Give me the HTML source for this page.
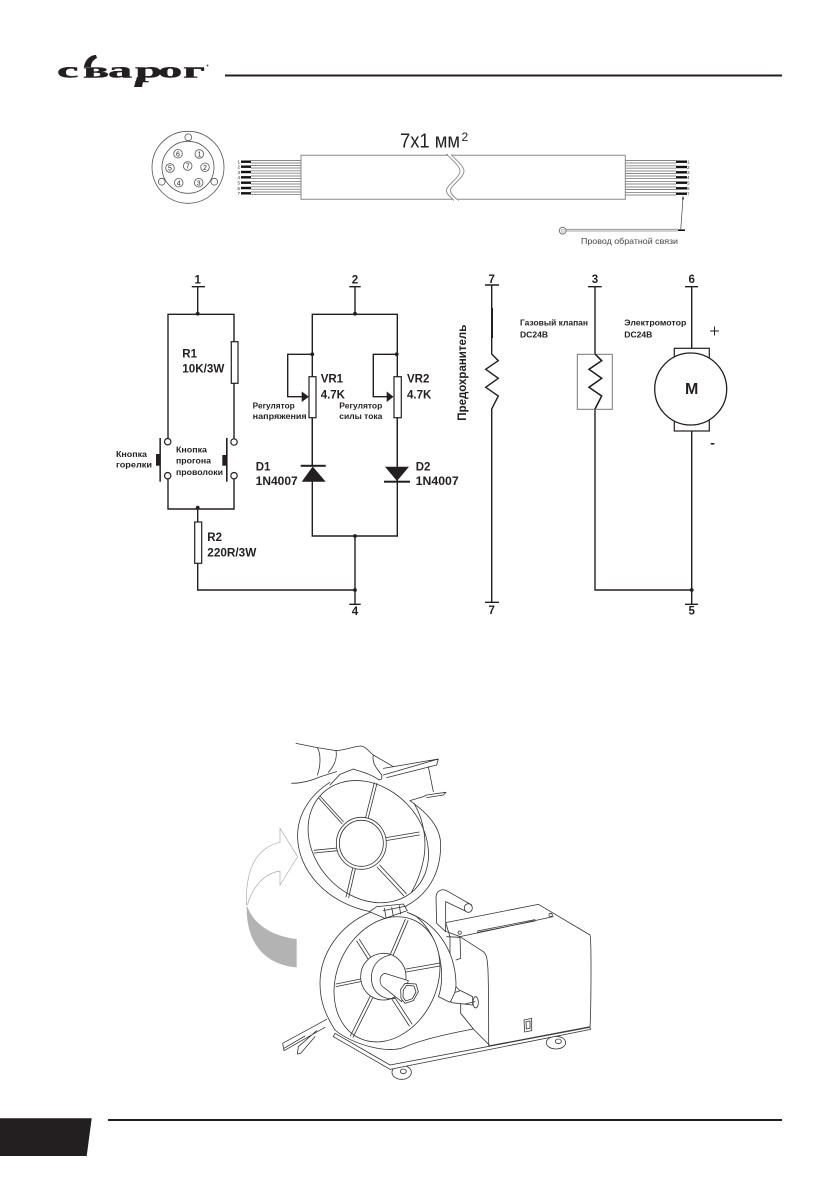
<!DOCTYPE html>
<html lang="ru"><head><meta charset="utf-8"><title>Сварог</title>
<style>
html,body{margin:0;padding:0;background:#fff}
svg{display:block}
text{font-family:"Liberation Sans","Noto Sans CJK SC",sans-serif;fill:#231f20}
.b{font-weight:bold}
.c{fill:none;stroke:#231f20;stroke-width:1.4}
.g{fill:none;stroke:#777;stroke-width:1}
.d{fill:#231f20}
.r{fill:#fff;stroke:#231f20;stroke-width:1.2}
.l{fill:none;stroke:#333;stroke-width:2.4;stroke-linejoin:round;stroke-linecap:round}
.w{fill:#fff;stroke:#333;stroke-width:2.4;stroke-linejoin:round}
</style></head><body>
<svg xmlns="http://www.w3.org/2000/svg" width="839" height="1191" viewBox="0 0 839 1191">
<rect width="839" height="1191" fill="#fff"/>

<!-- header -->
<text transform="translate(57,77.5) scale(2.2,1)" x="0 11.8 23.2 35.5 46 57.3" y="0" font-size="22" style="font-family:'Liberation Serif','Noto Serif CJK SC',serif;font-weight:bold;fill:#231f20;stroke:#231f20;stroke-width:.4">сварог</text>
<path d="M84 67C85 60 90 55 96 55L97 58C93 60 91 63 91 67Z" class="d"/>
<path d="M137 77H144L142 87H134Z" class="d"/>
<circle cx="207.5" cy="65.5" r="1" fill="#555"/>
<rect x="225" y="74.5" width="557" height="2" class="d"/>

<!-- footer -->
<path d="M0 1118.3H91.7L86.7 1156H0Z" class="d"/>
<rect x="108" y="1119" width="674" height="2" class="d"/>

<!-- connector -->
<g fill="none" stroke="#555" stroke-width=".8">
<circle cx="188" cy="167.3" r="36"/><circle cx="188" cy="167.3" r="26"/>
<g fill="#fff"><circle cx="188.3" cy="137.3" r="3.4"/><circle cx="161.7" cy="181.7" r="3.4"/><circle cx="214.3" cy="181.7" r="3.4"/></g>
<circle cx="178" cy="153.7" r="4.3"/><circle cx="199.3" cy="154" r="4.3"/><circle cx="170" cy="168" r="4.3"/><circle cx="187.7" cy="166" r="4.3"/><circle cx="205" cy="167.3" r="4.3"/><circle cx="178.7" cy="182.7" r="4.3"/><circle cx="198.7" cy="182.7" r="4.3"/>
</g>
<g font-size="7" text-anchor="middle" fill="#444">
<text x="178" y="156.3">6</text><text x="199.3" y="156.6">1</text><text x="170" y="170.6">5</text><text x="187.7" y="168.6">7</text><text x="205" y="169.9">2</text><text x="178.7" y="185.3">4</text><text x="198.7" y="185.3">3</text>
</g>

<!-- cable -->
<text x="400" y="147.3" font-size="20" textLength="60" lengthAdjust="spacingAndGlyphs" style="fill:#222">7x1 мм</text>
<text x="461.5" y="141" font-size="12" style="fill:#222">2</text>
<g fill="none" stroke="#888" stroke-width=".9">
<path d="M251 160.5H301M251 163H301M251 165.5H301M251 168H301M251 170.8H301M251 173.2H301M251 176H301M251 178.6H301M251 181.4H301M251 184H301M251 186.8H301M251 189.3H301M251 192H301M251 194.6H301"/>
<path d="M625 160.5H676M625 163H676M625 165.8H676M625 168.2H676M625 171H676M625 173.5H676M625 176H676M625 178.6H676M625 181.4H676M625 184H676M625 187H676M625 189.5H676M625 192.4H676M625 195H676"/>
</g>
<g fill="#111">
<rect x="241" y="160.5" width="10" height="2.4"/><rect x="241" y="165.5" width="10" height="2.4"/><rect x="241" y="170.8" width="10" height="2.4"/><rect x="241" y="176.1" width="10" height="2.4"/><rect x="241" y="181.5" width="10" height="2.4"/><rect x="241" y="186.8" width="10" height="2.4"/><rect x="241" y="192.1" width="10" height="2.4"/>
<rect x="676" y="160.5" width="11" height="2.4"/><rect x="676" y="165.8" width="11" height="2.4"/><rect x="676" y="171.1" width="11" height="2.4"/><rect x="676" y="176.1" width="11" height="2.4"/><rect x="676" y="181.5" width="11" height="2.4"/><rect x="676" y="187.1" width="11" height="2.4"/><rect x="676" y="192.5" width="11" height="2.4"/>
</g>
<g font-size="4.5" style="fill:#666">
<text x="237.5" y="163.5">1</text><text x="237.5" y="168.5">2</text><text x="237.5" y="173.8">3</text><text x="237.5" y="179">4</text><text x="237.5" y="184.5">5</text><text x="237.5" y="189.8">6</text><text x="237.5" y="195">7</text>
<text x="687" y="163.5">1</text><text x="687" y="168.8">2</text><text x="687" y="174">3</text><text x="687" y="179">4</text><text x="687" y="184.5">5</text><text x="687" y="190">6</text><text x="687" y="195.5">7</text>
</g>
<path d="M301 155.3H625.3V199.3H301Z" fill="#fff" stroke="#888" stroke-width="1"/>
<path d="M447 154.5 C452 160 460 166 460 171 C460 178 445 186 446.5 191 C447 195 451 197 454 200.5L458 200.5 C455 197 451 195 450.5 191 C449.5 186 464 178 464 171 C464 166 456 160 451 154.5Z" fill="#fff" stroke="#888" stroke-width=".9"/>
<path d="M451 154.5H448M454 200.5H458" stroke="#fff" stroke-width="1.6"/>
<circle cx="562.7" cy="230.7" r="3.4" fill="#fff" stroke="#777"/><circle cx="562.7" cy="230.7" r="1.5" fill="#fff" stroke="#999" stroke-width=".6"/>
<path d="M566 229.3H678M566 231H678" stroke="#888" stroke-width=".8"/>
<rect x="678" y="229.4" width="7" height="1.6" fill="#111"/>
<path d="M680.7 230L683 198" stroke="#444" stroke-width=".7"/>
<path d="M683 195.5l-1.2 4h2.4z" fill="#444"/>
<text x="581" y="244" font-size="8.6" textLength="97" lengthAdjust="spacingAndGlyphs" style="fill:#444">Провод обратной связи</text>

<!-- circuit 1 -->
<g class="c">
<path d="M191.7 286.7H205M197.7 286.7V314.3M168 441V314.3H234V441M168 479V509H234V479M197.7 509V590H355"/>
<path d="M349.3 286.7H360.7M355 286.7V314.3M312.3 481V536H397.3V314.3H312.3V466M355 536V604.3M349.3 604.3H360.7"/>
<path d="M312.3 354.3H287.7V396.7H303M397.3 354.3H373.3V396.7H388"/>
</g>
<g class="r">
<rect x="231.3" y="341.7" width="6.7" height="41.6"/><rect x="194.7" y="522" width="7" height="41.3"/>
<rect x="309" y="376.7" width="7" height="41"/><rect x="394" y="376.7" width="7.3" height="41"/>
<circle cx="167.7" cy="441.7" r="3.2"/><circle cx="167.7" cy="475.7" r="3.2"/><circle cx="234" cy="442" r="3.2"/><circle cx="234" cy="475.7" r="3.2"/>
</g>
<g class="d">
<circle cx="197.7" cy="313.7" r="1.9"/><circle cx="197.7" cy="507.7" r="1.9"/><circle cx="355" cy="313.7" r="1.9"/><circle cx="355" cy="536" r="1.9"/><circle cx="355" cy="590" r="1.9"/><circle cx="312.3" cy="354.3" r="1.9"/><circle cx="396.7" cy="354.3" r="1.9"/>
<rect x="159.4" y="438" width="1.5" height="43.7"/><rect x="156" y="454" width="4" height="11.7"/>
<rect x="226" y="438" width="1.6" height="43.7"/><rect x="222.3" y="455" width="4" height="10.7"/>
<path d="M301.7 391.5L309 396.7L301.7 402Z"/><path d="M386.7 391.5L393.5 396.7L386.7 402Z"/>
<rect x="300.7" y="464.8" width="25" height="2"/><path d="M312.7 466.5L325.7 481.7H301.7Z"/>
<rect x="384" y="480.7" width="26" height="2"/><path d="M385 466.7H409L397 481Z"/>
</g>
<path d="M312.3 418V466M397.3 418V467" class="c"/>

<g class="b" font-size="11.5">
<text x="197.7" y="283.7" text-anchor="middle">1</text><text x="355" y="283.7" text-anchor="middle">2</text><text x="355" y="615" text-anchor="middle">4</text>
<text x="182.3" y="357.3">R1</text><text x="182.3" y="372.7" textLength="42" lengthAdjust="spacingAndGlyphs">10K/3W</text>
<text x="320.7" y="382.3">VR1</text><text x="320.7" y="398.3">4.7K</text>
<text x="407" y="382.3">VR2</text><text x="407" y="398.3">4.7K</text>
<text x="255.7" y="470.7">D1</text><text x="255.7" y="485" textLength="42" lengthAdjust="spacingAndGlyphs">1N4007</text>
<text x="415.7" y="470.7">D2</text><text x="415.7" y="485" textLength="43" lengthAdjust="spacingAndGlyphs">1N4007</text>
<text x="207.3" y="541">R2</text><text x="207.3" y="556.7" textLength="49" lengthAdjust="spacingAndGlyphs">220R/3W</text>
</g>
<g class="b" font-size="8">
<text x="252.7" y="408.3" textLength="42" lengthAdjust="spacingAndGlyphs">Регулятор</text>
<text x="252.7" y="419" textLength="54" lengthAdjust="spacingAndGlyphs">напряжения</text>
<text x="339.3" y="408.3" textLength="43" lengthAdjust="spacingAndGlyphs">Регулятор</text>
<text x="339.3" y="419" textLength="43" lengthAdjust="spacingAndGlyphs">силы тока</text>
<text x="116" y="457" textLength="31" lengthAdjust="spacingAndGlyphs">Кнопка</text>
<text x="116" y="467.7" textLength="36" lengthAdjust="spacingAndGlyphs">горелки</text>
<text x="176" y="452.7" textLength="31" lengthAdjust="spacingAndGlyphs">Кнопка</text>
<text x="176" y="463.3" textLength="35" lengthAdjust="spacingAndGlyphs">прогона</text>
<text x="176" y="475" textLength="47" lengthAdjust="spacingAndGlyphs">проволоки</text>
<text x="520" y="325.7" textLength="68" lengthAdjust="spacingAndGlyphs">Газовый клапан</text>
<text x="520" y="337.3" textLength="28" lengthAdjust="spacingAndGlyphs">DC24B</text>
<text x="624.3" y="325.7" textLength="62" lengthAdjust="spacingAndGlyphs">Электромотор</text>
<text x="624.3" y="337.3" textLength="28" lengthAdjust="spacingAndGlyphs">DC24B</text>
</g>

<!-- circuit 2 -->
<g class="c">
<path d="M485 285H499M491.7 285V354L498.3 360.7L485.7 369.3L498.3 378.3L485.7 387.3L498.3 396L491.7 409V602.3M485 602.3H499"/>
<path d="M588 286.7H601.7M595 286.7V354L601.7 360.7L589 369.3L601.7 378.3L589 387.3L601.7 396L595 409V590H691.7"/>
<path d="M685 286.7H698M691.7 286.7V348.3M691.7 431V604.3M685 604.3H698"/>
</g>
<rect x="491" y="308" width="2" height="30" class="d"/>
<rect x="577.3" y="354.3" width="35" height="55" fill="none" stroke="#777" stroke-width="1"/>
<path d="M595 354L601.7 360.7L589 369.3L601.7 378.3L589 387.3L601.7 396L595 409" class="c"/>
<rect x="674.3" y="348.3" width="35" height="82.7" class="r"/>
<circle cx="690.7" cy="389" r="36" fill="#fff" stroke="#231f20" stroke-width="1.3"/>
<circle cx="691.7" cy="590" r="1.9" class="d"/>
<path d="M710 331H719M714.5 326.5V335.5" stroke="#231f20" stroke-width="1"/>
<rect x="710.8" y="443" width="3.6" height="1.6" class="d"/>
<g class="b" font-size="11.5" text-anchor="middle">
<text x="491.7" y="283">7</text><text x="491.7" y="614">7</text><text x="595" y="283">3</text><text x="691.7" y="283">6</text><text x="691.7" y="614.3">5</text>
</g>
<text x="691.7" y="394" class="b" font-size="16" text-anchor="middle">M</text>
<text transform="translate(466,420.7) rotate(-90)" class="b" font-size="12" textLength="96" lengthAdjust="spacingAndGlyphs">Предохранитель</text>

<!-- upper reel, coordinates in crop space -->
<g transform="translate(230,735) scale(.33333)">
<path d="M50 510C45 420 70 340 150 322L150 280L203 365L150 450L150 408C105 415 70 450 52 510" fill="#fff" stroke="#aaa" stroke-width="2"/>
<path d="M50 510C70 570 130 605 200 612V697C110 690 50 630 50 520Z" fill="#b3b3b3"/>
<path class="l" d="M460 120L625 72L620 90L470 128M460 100L625 72M595 95L610 170M540 197L580 185L590 180L648 172L640 180L590 188"/>
<path class="l" d="M198 25L262 38L318 47C345 45 370 35 392 33C405 33 415 48 430 60L490 95"/>
<path class="l" d="M262 38C275 60 270 100 262 120M318 47C322 70 315 90 295 112M185 145C220 145 250 135 272 125L320 110"/>
<path class="l" d="M430 60C425 85 440 100 455 120C458 135 450 138 440 130C410 112 390 110 370 102L330 118L300 150"/>
<path class="l" d="M300 142C240 180 200 240 203 310C206 400 280 500 420 530"/>
<path class="l" d="M540 197C600 240 632 280 632 330C632 420 590 480 530 512"/>
<ellipse class="l" cx="415" cy="320" rx="200" ry="162" transform="rotate(47 415 320)"/>
<path class="l" d="M552 205C585 260 592 330 578 385C570 420 560 445 545 470"/>
<path class="l" d="M406 250L433 143M414 252L441 145M336 266L266 189M340 260L270 183M322 339L252 346M322 347L252 354M368 400L348 486M376 402L356 488M441 396L521 482M449 390L529 476M468 308L568 291M468 317L568 300"/>
<ellipse class="w" cx="394" cy="325" rx="75" ry="78"/>
<ellipse class="l" cx="394" cy="325" rx="66" ry="69"/>
</g>

<!-- lower unit, coordinates in crop space -->
<g transform="translate(270,880) scale(.33333)">
<ellipse class="l" cx="395" cy="577" rx="29" ry="21"/><ellipse class="l" cx="400" cy="574" rx="9" ry="7"/>
<ellipse class="l" cx="858" cy="488" rx="29" ry="19"/><ellipse class="l" cx="865" cy="484" rx="9" ry="7"/>
<path class="l" d="M170 418L38 490L42 512L165 442M140 452L85 500L82 522L92 520L135 470M42 505L105 468"/>
<path class="w" d="M195 460L360 555L960 442L962 448L360 568L190 470Z"/>
<path class="w" d="M527 128L805 73L960 165C965 175 963 400 960 440L660 497L610 447L572 400V335L540 300V170Z"/>
<path class="l" d="M530 155L570 170L640 215C655 228 656 240 656 497M570 170L850 110M622 157L795 123M622 153L795 119"/>
<circle class="l" cx="842" cy="105" r="5"/><circle class="l" cx="569" cy="158" r="5"/>
<path class="l" d="M530 170L570 172L572 235L558 240"/>
<path class="w" d="M527 155L500 130L498 50C500 32 515 25 530 32L605 75L590 95L527 65Z"/>
<ellipse class="w" cx="595" cy="84" rx="12" ry="13"/>
<path fill="#fff" d="M195 450C250 495 350 520 400 503C450 480 540 460 610 447L572 400V340L505 350L351 298Z"/>
<path class="l" d="M195 450C250 495 350 520 400 503C450 480 540 460 610 447L572 400V335"/>
<path class="l" d="M300 97C210 135 150 220 150 310C150 370 170 410 195 450"/>
<path class="w" d="M530 345L572 332L608 350V375L545 368Z"/>
<path class="w" d="M412 97C490 125 555 200 558 310C558 330 555 340 540 367L505 350C525 300 520 180 440 110Z"/>
<ellipse class="w" cx="351" cy="298" rx="150" ry="195" transform="rotate(25 351 298)"/>
<path class="l" d="M406 118L361 223M414 122L369 227M260 183L298 243M268 178L306 238M198 312L272 297M198 320L272 305M300 350L241 468M308 354L249 472M366 358L418 438M374 352L426 432M408 267L510 249M408 276L510 258"/>
<ellipse class="w" cx="340" cy="290" rx="68" ry="70"/>
<path class="l" d="M360 225C320 235 300 265 305 305C310 340 340 360 375 355"/>
<path class="w" d="M345 280L415 302L395 365L345 325C325 315 325 285 345 280Z"/>
<path class="w" d="M392 328L405 310L438 312L445 335L430 362L405 370L393 355Z"/>
<path class="l" d="M400 330L410 316L432 318L438 336L427 356L407 363L399 351Z"/>
<path class="w" d="M298 95L320 80L400 72L412 92L345 115Z"/>
<path class="l" d="M343 85L348 112M365 82L370 108M388 77L392 102M340 92L410 78"/>
<ellipse class="w" cx="617" cy="367" rx="8" ry="17"/><path class="l" d="M585 372L615 365"/>
<path class="w" d="M762 420L785 415V452L764 456Z"/><path class="l" d="M768 425L780 423V445L769 447Z"/>
</g>
</svg>
</body></html>
